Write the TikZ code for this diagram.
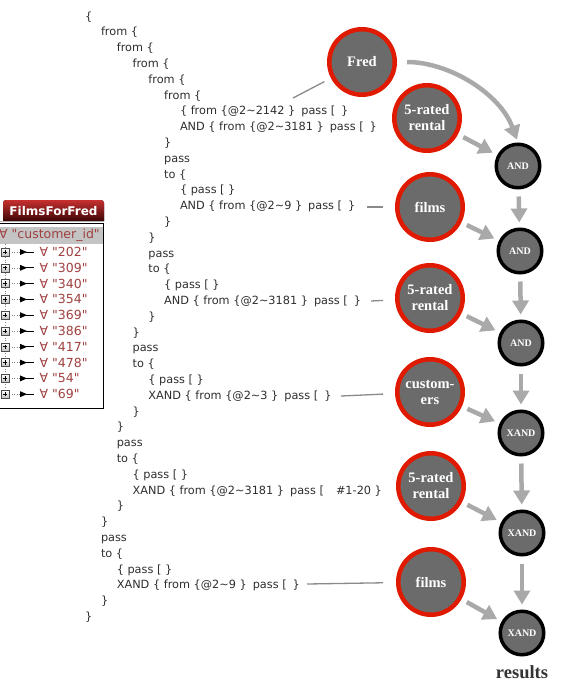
\documentclass[tikz,border=0pt]{standalone}
\usepackage{fontspec}
\setmainfont{Liberation Serif}
\newfontfamily\codefont{DejaVu Sans}
\usetikzlibrary{arrows.meta}
\definecolor{codegray}{HTML}{2E2E2E}
\definecolor{nodegray}{HTML}{6B6B6B}
\definecolor{rimred}{HTML}{E01A00}
\definecolor{arrowgray}{HTML}{A9A9A9}
\definecolor{linegray}{HTML}{8A8A8A}
\definecolor{idred}{HTML}{A04040}
\definecolor{tabtop}{HTML}{C83030}
\definecolor{tabbot}{HTML}{3A0505}
\definecolor{headgray}{HTML}{C4C4C4}
\definecolor{resgray}{HTML}{333333}
\newcommand\tl{\textasciitilde}
\newcommand\gap{\hspace{6pt}}
\newcommand\codeln[4]{\node[code] (#1) at ({85+15.8*#2},{20+15.8*#3}) {#4};}
\begin{document}
\begin{tikzpicture}[x=1pt,y=-1pt,
  code/.style={anchor=base west,inner sep=0pt,font=\codefont\fontsize{11.3}{12}\selectfont,text=codegray},
  src/.style={circle,draw=rimred,line width=4.5pt,fill=nodegray,minimum size=65.5pt,inner sep=0pt,text=white,font=\bfseries\fontsize{14.5}{16}\selectfont,align=center},
  op/.style={circle,draw=black,line width=3.5pt,fill=nodegray,minimum size=43.5pt,inner sep=0pt,text=white,font=\bfseries\fontsize{10}{10}\selectfont},
  flow/.style={draw=arrowgray,line width=4.5pt,-{Triangle[length=14pt,width=16pt]}},
  tie/.style={draw=linegray,line width=1.3pt},
  rowtext/.style={anchor=west,inner sep=0pt,font=\codefont\fontsize{12.5}{12}\selectfont,text=idred},
]
\useasboundingbox (0,0) rectangle (570,688);

% ---- table on the left ----
\fill[top color=tabtop,bottom color=tabbot] (3,221) [rounded corners=3pt] -- (3,200) -- (104,200) [sharp corners] -- (104,221) -- cycle;
\node[inner sep=0pt,text=white,font=\codefont\bfseries\fontsize{12}{12}\selectfont] (tab) at (53.5,211) {FilmsForFred};
\draw[gray!60,line width=1.5pt] (0,221.5) -- (104,221.5);
\draw[black,line width=1pt] (-2,223.5) rectangle (103.5,408);
\fill[headgray] (0,227) rectangle (103,244);
\node[rowtext] (head) at (-1,235.5) {∀ "customer\_id"};
\draw[gray,dotted,line width=0.6pt] (5,244) -- (5,394);
\foreach \v [count=\i from 0] in {202,309,340,354,369,386,417,478,54,69} {
  \pgfmathsetmacro\yy{252+15.8*\i}
  \draw[gray,dotted,line width=0.6pt] (9,\yy) -- (20,\yy);
  \draw[black!70,top color=white,bottom color=black!25,line width=0.5pt] (1,{\yy-4}) rectangle (9,{\yy+4});
  \draw[black,line width=0.9pt] (2.8,\yy) -- (7.2,\yy) (5,{\yy-2.2}) -- (5,{\yy+2.2});
  \fill[black] (20,{\yy-3}) -- (27,\yy) -- (20,{\yy+3}) -- cycle;
  \draw[black,line width=1pt] (26,\yy) -- (34,\yy);
  \node[rowtext] (r\i) at (39.5,\yy) {∀ "\v"};
}

% ---- code text ----
\codeln{c0}{0}{0}{\{}
\codeln{c1}{1}{1}{from \{}
\codeln{c2}{2}{2}{from \{}
\codeln{c3}{3}{3}{from \{}
\codeln{c4}{4}{4}{from \{}
\codeln{c5}{5}{5}{from \{}
\codeln{c6}{6}{6}{\{ from \{@2\tl2142 \}\gap pass [\gap\}}
\codeln{c7}{6}{7}{AND \{ from \{@2\tl3181 \}\gap pass [\gap\}}
\codeln{c8}{5}{8}{\}}
\codeln{c9}{5}{9}{pass}
\codeln{c10}{5}{10}{to \{}
\codeln{c11}{6}{11}{\{ pass [ \}}
\codeln{c12}{6}{12}{AND \{ from \{@2\tl9 \}\gap pass [\gap\}}
\codeln{c13}{5}{13}{\}}
\codeln{c14}{4}{14}{\}}
\codeln{c15}{4}{15}{pass}
\codeln{c16}{4}{16}{to \{}
\codeln{c17}{5}{17}{\{ pass [ \}}
\codeln{c18}{5}{18}{AND \{ from \{@2\tl3181 \}\gap pass [\gap\}}
\codeln{c19}{4}{19}{\}}
\codeln{c20}{3}{20}{\}}
\codeln{c21}{3}{21}{pass}
\codeln{c22}{3}{22}{to \{}
\codeln{c23}{4}{23}{\{ pass [ \}}
\codeln{c24}{4}{24}{XAND \{ from \{@2\tl3 \}\gap pass [\gap\}}
\codeln{c25}{3}{25}{\}}
\codeln{c26}{2}{26}{\}}
\codeln{c27}{2}{27}{pass}
\codeln{c28}{2}{28}{to \{}
\codeln{c29}{3}{29}{\{ pass [ \}}
\codeln{c30}{3}{30}{XAND \{ from \{@2\tl3181 \}\gap pass [\hspace{12pt}\#1-20 \}}
\codeln{c31}{2}{31}{\}}
\codeln{c32}{1}{32}{\}}
\codeln{c33}{1}{33}{pass}
\codeln{c34}{1}{34}{to \{}
\codeln{c35}{2}{35}{\{ pass [ \}}
\codeln{c36}{2}{36}{XAND \{ from \{@2\tl9 \}\gap pass [\gap\}}
\codeln{c37}{1}{37}{\}}
\codeln{c38}{0}{38}{\}}

% ---- source circles ----
\node[src] (fred) at (362,62) {Fred};
\node[src] (rent1) at (427,118) {5-rated\\rental};
\node[src] (films1) at (430,207) {films};
\node[src] (rent2) at (430,298) {5-rated\\rental};
\node[src] (cust) at (430,392) {custom-\\ers};
\node[src] (rent3) at (431,486) {5-rated\\rental};
\node[src] (films2) at (431,582) {films};

% ---- operator circles ----
\node[op] (a1) at (518,166) {AND};
\node[op] (a2) at (520,251) {AND};
\node[op] (a3) at (521,343) {AND};
\node[op] (a4) at (521,433) {XAND};
\node[op] (a5) at (522,533) {XAND};
\node[op] (a6) at (522,633) {XAND};
\node[inner sep=0pt,font=\bfseries\fontsize{18.5}{20}\selectfont,text=resgray] (res) at (522,672) {results};

% ---- tie lines from code to circles ----
\coordinate (t1) at (293,98);
\coordinate (t2) at (367,207);
\coordinate (t3) at (371,301);
\coordinate (t4) at (341,396);
\coordinate (t5) at (307,584);
\draw[tie,shorten >=7.5pt] (t1) -- (fred);
\draw[tie,shorten >=12pt] (t2) -- (films1);
\draw[tie,shorten >=12pt] (t3) -- (rent2);
\draw[tie,shorten >=12pt] (t4) -- (cust);
\draw[tie,shorten >=13pt] (t5) -- (films2);

% ---- flow arrows ----
\draw[flow,shorten <=10pt,shorten >=3pt] (fred.east) .. controls +(52,0) and +(-18,-49) .. (a1.north);
\foreach \s/\t in {rent1/a1,films1/a2,rent2/a3,cust/a4,rent3/a5,films2/a6}
  \draw[flow,shorten <=6pt,shorten >=5pt] (\s) -- (\t);
\foreach \s/\t in {a1/a2,a2/a3,a3/a4,a4/a5,a5/a6}
  \draw[flow,shorten <=7pt,shorten >=5pt] (\s) -- (\t);
\end{tikzpicture}
\end{document}
